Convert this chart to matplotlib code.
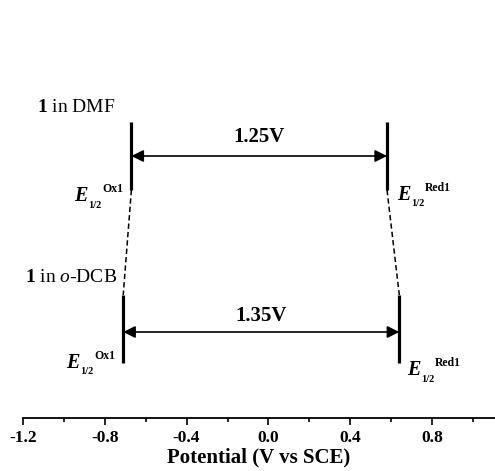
import matplotlib
matplotlib.use('Agg')
from matplotlib import pyplot as plt
from matplotlib.ticker import MultipleLocator

# half-wave potentials (V vs SCE): [Ox1, Red1]
solvents = ['DMF', 'o-DCB']
e_ox = [-0.67, -0.71]
e_red = [0.58, 0.64]
gap_labels = ['1.25V', '1.35V']

plt.rcParams['font.family'] = ['Liberation Serif', 'DejaVu Serif']
plt.rcParams['axes.unicode_minus'] = False
plt.rcParams['mathtext.fontset'] = 'custom'
plt.rcParams['mathtext.rm'] = 'Liberation Serif'
plt.rcParams['mathtext.it'] = 'Liberation Serif:italic'
plt.rcParams['mathtext.bf'] = 'Liberation Serif:bold'

fig = plt.figure(figsize=(4.95, 4.71), dpi=100)
ax = fig.add_axes([23 / 495, 53 / 471, 472 / 495, 418 / 471])
ax.set_xlim(-1.2, 1.108)
ax.set_ylim(418, 0)  # vertical layout in pixel rows from the top

for s in ['left', 'right', 'top']:
    ax.spines[s].set_visible(False)
ax.spines['bottom'].set_linewidth(1.3)
ax.set_yticks([])
ax.xaxis.set_major_locator(MultipleLocator(0.4))
ax.xaxis.set_minor_locator(MultipleLocator(0.2))
ax.set_xticks([-1.2, -0.8, -0.4, 0.0, 0.4, 0.8])
ax.tick_params(axis='x', which='major', direction='out', length=5, width=1.2,
               labelsize=12.5, pad=4)
ax.tick_params(axis='x', which='minor', direction='out', length=3, width=1.2)
for lab in ax.get_xticklabels():
    lab.set_fontweight('bold')
ax.set_xlabel('Potential (V vs SCE)', fontsize=15, fontweight='bold', labelpad=1)

# rows: (line top, line bottom, arrow y, gap label y, solvent label y)
rows = [(122, 190, 156, 137, 108), (295, 363, 332, 316, 277)]
solvent_labels = [r'$\mathbf{1}$ in DMF', r'$\mathbf{1}$ in $\mathit{o}$-DCB']
solvent_x = [-1.13, -1.19]

for i in range(len(solvents)):
    top, bot, ya, yg, ys = rows[i]
    ax.plot([e_ox[i], e_ox[i]], [top, bot], color='black', lw=2.3,
            solid_capstyle='butt')
    ax.plot([e_red[i], e_red[i]], [top, bot], color='black', lw=2.3,
            solid_capstyle='butt')
    ax.annotate('', xy=(e_red[i], ya), xytext=(e_ox[i], ya),
                arrowprops=dict(arrowstyle='<|-|>', color='black', lw=1.2,
                                mutation_scale=18, shrinkA=0, shrinkB=0))
    ax.text((e_ox[i] + e_red[i]) / 2, yg, gap_labels[i], ha='center',
            va='center', fontsize=15, fontweight='bold')
    ax.text(solvent_x[i], ys, solvent_labels[i], ha='left', va='center',
            fontsize=14)

# dashed connectors between the two solvents
ax.plot([e_ox[0], e_ox[1]], [rows[0][1], rows[1][0]], color='black', lw=1.1,
        ls=(0, (3.5, 2)))
ax.plot([e_red[0], e_red[1]], [rows[0][1], rows[1][0]], color='black', lw=1.1,
        ls=(0, (3.5, 2)))


def e_label(x, y, dx, sup):
    ax.annotate('E', xy=(x, y), xytext=(dx, 0), textcoords='offset pixels',
                ha='left', va='center', fontsize=14.5, fontweight='bold',
                fontstyle='italic')
    ax.annotate('1/2', xy=(x, y), xytext=(dx + 14, -9),
                textcoords='offset pixels', ha='left', va='center',
                fontsize=7.5, fontweight='bold')
    ax.annotate(sup, xy=(x, y), xytext=(dx + 28, 7),
                textcoords='offset pixels', ha='left', va='center',
                fontsize=8.5, fontweight='bold')


e_label(e_ox[0], 196, -57, 'Ox1')
e_label(e_red[0], 195, 10, 'Red1')
e_label(e_ox[1], 363, -57, 'Ox1')
e_label(e_red[1], 370, 8, 'Red1')

plt.savefig('out.png', dpi=100)
